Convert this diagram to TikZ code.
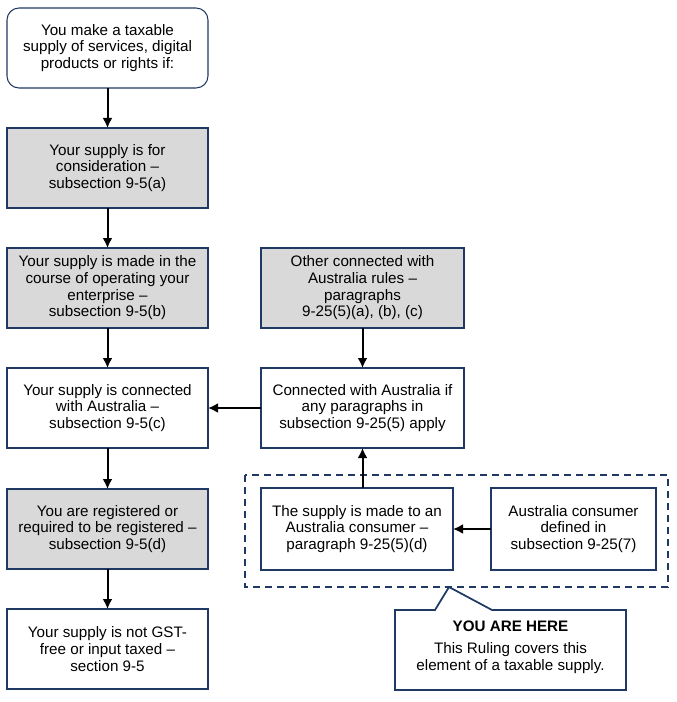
\documentclass[tikz,border=0pt]{standalone}
\usepackage{fontspec}
\setmainfont{Liberation Sans}
\usepackage{tikz}
\usetikzlibrary{
  arrows.meta,
  positioning
}
\definecolor{boxnavy}{HTML}{1F3864}
\definecolor{boxgrey}{HTML}{D9D9D9}
\tikzset{>={Latex[length=7.5pt,width=7.5pt]}}
\tikzset{font=\fontsize{11.4}{12.5}\selectfont}
\tikzset{
  flowbox/.style={draw=boxnavy, line width=0.8pt, fill=white, align=center,
    minimum width=150.75pt, minimum height=60pt, inner sep=0pt, outer sep=0pt},
  greybox/.style={flowbox, fill=boxgrey},
  startbox/.style={flowbox, rounded corners=9pt},
  herebox/.style={flowbox, line width=1.3pt, minimum height=61.5pt},
  flowarrow/.style={->, line width=1.5pt},
}

\begin{document}
\begin{tikzpicture}[x=0.75pt, y=-0.75pt]
  \useasboundingbox (0,0) rectangle (676,702);
  % left column
  \node[startbox] (start) at (107.5,48) {You make a taxable\\supply of services, digital\\products or rights if:};
  \node[greybox] (consid) at (107.5,168) {Your supply is for\\consideration --\\subsection 9-5(a)};
  \node[greybox] (enterp) at (107.5,288) {Your supply is made in the\\course of operating your\\enterprise --\\subsection 9-5(b)};
  \node[flowbox] (connect) at (107.5,408) {Your supply is connected\\with Australia --\\subsection 9-5(c)};
  \node[greybox] (regist) at (107.5,529) {You are registered or\\required to be registered --\\subsection 9-5(d)};
  \node[flowbox] (notfree) at (107.5,649) {Your supply is not GST-\\free or input taxed --\\section 9-5};
  % right column
  \node[greybox, minimum width=152.25pt] (otherrules) at (362.5,288) {Other connected with\\Australia rules --\\paragraphs\\9-25(5)(a), (b), (c)};
  \node[flowbox, minimum width=152.25pt] (anypara) at (362.5,408) {Connected with Australia if\\any paragraphs in\\subsection 9-25(5) apply};
  % the element this ruling covers
  \draw[boxnavy, line width=1.5pt, dash pattern=on 5.5pt off 3.5pt] (245,475) rectangle (668,587);
  \node[herebox, minimum width=144pt] (madeto) at (357,529) {The supply is made to an\\Australia consumer --\\paragraph 9-25(5)(d)};
  \node[herebox, minimum width=123.75pt] (consumer) at (573.5,529) {Australia consumer\\defined in\\subsection 9-25(7)};
  % callout
  \draw[boxnavy, line width=1.3pt, fill=white, line join=miter]
    (395,610) -- (435,610) -- (449,587) -- (492,610) -- (626,610)
    -- (626,690) -- (395,690) -- cycle;
  \node[font=\fontsize{11.4}{12.5}\selectfont\bfseries] (here) at (510.5,626) {YOU ARE HERE};
  \node[align=center] (covers) at (510.5,658) {This Ruling covers this\\element of a taxable supply.};

  \draw[flowarrow] (start) -- (consid);
  \draw[flowarrow] (consid) -- (enterp);
  \draw[flowarrow] (enterp) -- (connect);
  \draw[flowarrow] (connect) -- (regist);
  \draw[flowarrow] (regist) -- (notfree);
  \draw[flowarrow] (otherrules) -- (anypara);
  \draw[flowarrow] (anypara) -- (connect);
  \draw[flowarrow] (madeto.north -| anypara) -- (anypara);
  \draw[flowarrow] (consumer) -- (madeto);
\end{tikzpicture}
\end{document}
